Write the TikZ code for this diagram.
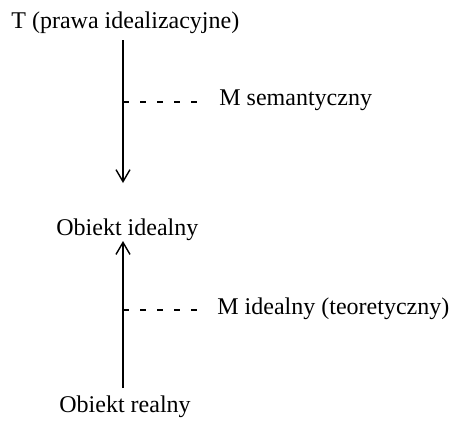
\documentclass[tikz,border=0pt]{standalone}
\usepackage{fontspec}
\setmainfont{Liberation Serif}
\usetikzlibrary{arrows.meta}
\begin{document}
\begin{tikzpicture}[x=0.5pt,y=-0.5pt,
  lbl/.style={inner sep=0pt,anchor=base west,font=\fontsize{12}{14}\selectfont},
  mainline/.style={line width=0.7pt},
  arr/.style={mainline,-{Straight Barb[length=6pt,width=7pt,line width=0.7pt]}},
  dsh/.style={line width=0.6pt,dash pattern=on 3pt off 5.5pt}]
\useasboundingbox (0,0) rectangle (453,420);
\node[lbl] (T) at (11,28) {T (prawa idealizacyjne)};
\node[lbl] (OI) at (56,235) {Obiekt idealny};
\node[lbl] (OR) at (59,412) {Obiekt realny};
\node[lbl] (MS) at (219,105) {M semantyczny};
\node[lbl] (MI) at (217,314) {M idealny (teoretyczny)};
\coordinate (a1) at (123,40);
\coordinate (a2) at (123,183);
\coordinate (b1) at (123,388);
\coordinate (b2) at (123,241);
\coordinate (d1) at (123,102);
\coordinate (d1e) at (200,102);
\coordinate (d2) at (123,310);
\coordinate (d2e) at (200,310);
\draw[arr] (a1) -- (a2);
\draw[arr] (b1) -- (b2);
\draw[dsh] (d1) -- (d1e);
\draw[dsh] (d2) -- (d2e);
\end{tikzpicture}
\end{document}
